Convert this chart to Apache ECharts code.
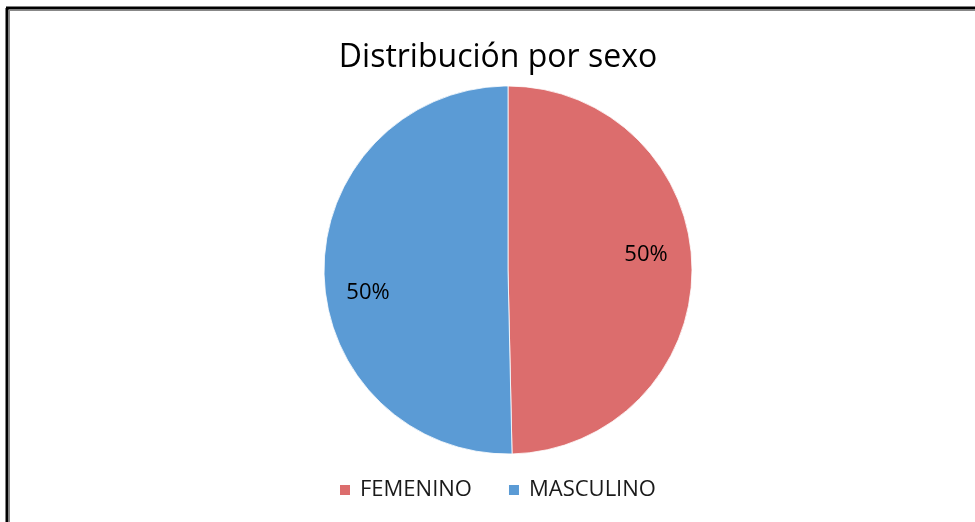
<!DOCTYPE html>
<html>
<head>
<meta charset="utf-8">
<script src="https://cdn.jsdelivr.net/npm/echarts@6/dist/echarts.min.js"></script>
<style>
  html, body { margin: 0; padding: 0; background: #fff; }
  #chart { width: 975px; height: 522px; }
</style>
</head>
<body>
<div id="chart"></div>
<script>
// datos
const categorias = ['FEMENINO', 'MASCULINO']
const valores = [71, 72]
const colores = ['#DC6D6D', '#5B9BD5']
const titulo = 'Distribución por sexo'

const datos = categorias.map((c, i) => ({name: c, value: valores[i], itemStyle: {color: colores[i]}}))

let myChart = echarts.init(document.getElementById('chart'))

const option = {
    animation: false,
    title: {
        text: titulo,
        left: 493,
        textAlign: 'center',
        top: 37,
        textStyle: {fontFamily: 'Open Sans', fontSize: 32, fontWeight: 'normal', color: '#000'}
    },
    legend: {
        data: categorias,
        left: 333,
        top: 474,
        icon: 'rect',
        itemWidth: 12,
        itemHeight: 12,
        itemGap: 35,
        textStyle: {fontFamily: 'Open Sans', fontSize: 22, color: '#1a1a1a', padding: [0, 0, 0, 4]}
    },
    graphic: [
        // marco del grafico
        {type: 'line', shape: {x1: 6, y1: 8, x2: 975, y2: 8}, style: {stroke: '#000', lineWidth: 3}},
        {type: 'line', shape: {x1: 7, y1: 8, x2: 7, y2: 522}, style: {stroke: '#000', lineWidth: 3}},
        {type: 'line', shape: {x1: 9, y1: 10.5, x2: 975, y2: 10.5}, style: {stroke: '#888', lineWidth: 1}},
        {type: 'line', shape: {x1: 9.5, y1: 10, x2: 9.5, y2: 522}, style: {stroke: '#888', lineWidth: 1}}
    ],
    series: [
        {
            type: 'pie',
            center: [508, 270],
            radius: [0, 184],
            startAngle: 90,
            clockwise: true,
            data: datos,
            label: {show: false},
            labelLine: {show: false},
            itemStyle: {borderColor: '#fff', borderWidth: 0.8},
            emphasis: {disabled: true}
        },
        {
            // serie invisible solo para colocar las etiquetas
            type: 'pie',
            center: [508, 270],
            radius: [92, 184],
            startAngle: 90,
            clockwise: true,
            silent: true,
            data: datos.map(d => ({name: d.name, value: d.value})),
            itemStyle: {color: 'rgba(0,0,0,0)'},
            label: {
                show: true,
                position: 'inside',
                formatter: p => Math.round(p.percent) + '%',
                fontFamily: 'Open Sans',
                fontSize: 22,
                color: '#000'
            },
            labelLayout: p => ({dx: p.dataIndex === 0 ? -3 : 1, dy: p.dataIndex === 0 ? -14 : 21}),
            labelLine: {show: false},
            emphasis: {disabled: true}
        }
    ]
}

myChart.setOption(option)
</script>
</body>
</html>
